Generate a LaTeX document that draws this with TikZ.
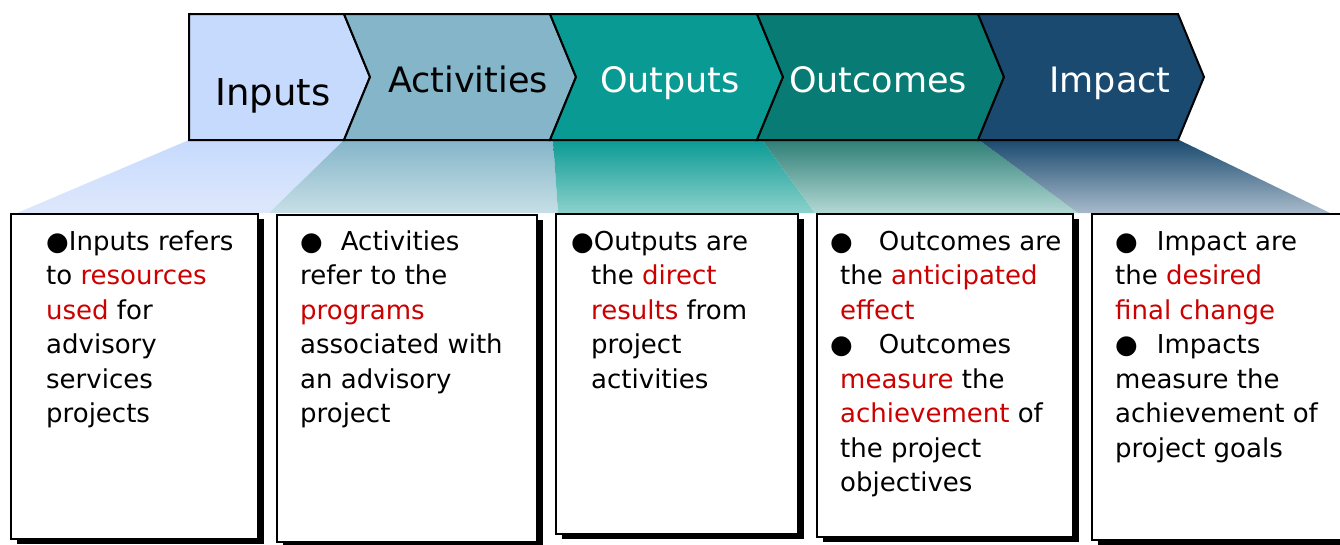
\documentclass[tikz,border=0pt]{standalone}
\usepackage{fontspec}
\setmainfont{DejaVu Sans}
\usepackage{tikz}
\usetikzlibrary{shadows}
\definecolor{inputsblue}{HTML}{C6DAFD}
\definecolor{activitiesblue}{HTML}{84B5C9}
\definecolor{outputsteal}{HTML}{0A9A94}
\definecolor{outcomesteal}{HTML}{077B74}
\definecolor{impactnavy}{HTML}{1A4A6F}
\definecolor{outcomestop}{HTML}{2E7F76}
\definecolor{inputsfade}{HTML}{DEE8FC}
\definecolor{activitiesfade}{HTML}{C7DFE5}
\definecolor{outputsfade}{HTML}{8DD1CC}
\definecolor{outcomesfade}{HTML}{B3D8D4}
\definecolor{impactfade}{HTML}{A8BACA}
\definecolor{keyred}{HTML}{CC0000}
\tikzstyle{chevron}=[draw=black, line width=2pt, line join=miter]
\tikzstyle{infobox}=[draw=black, line width=2pt, fill=white, inner sep=0pt, outer sep=0pt, anchor=north west, drop shadow={shadow xshift=6pt, shadow yshift=-5pt, fill=black, opacity=1}]
\tikzstyle{infotext}=[anchor=north west, inner sep=0pt, align=left, font=\fontsize{26}{34.5}\selectfont]
\tikzstyle{steplabel}=[anchor=base, inner sep=0pt]
\newcommand{\keyword}[1]{\textcolor{keyred}{#1}}

\begin{document}
\begin{tikzpicture}[x=1pt, y=-1pt]
    \useasboundingbox (0,0) rectangle (1340,544);
    % fading bands under the arrow
    \foreach \ta/\tb/\ba/\bb/\ct/\cb in {189/344/17/269/inputsblue/inputsfade, 344/553/269/558/activitiesblue/activitiesfade, 553/762/558/815/outputsteal/outputsfade, 762/979/815/1078/outcomestop/outcomesfade, 979/1179/1078/1330/impactnavy/impactfade}
        \shade[top color=\ct, bottom color=\cb] (\ta,140) -- (\tb,140) -- (\bb,213) -- (\ba,213) -- cycle;
    % chevrons
    \foreach \xa/\xb/\col/\txt/\tcol/\lx/\ly/\fs [count=\i] in {189/344/inputsblue/Inputs/black/273/105/37, 344/550/activitiesblue/Activities/black/468/92/35, 550/757/outputsteal/Outputs/white/670/92/35, 757/978/outcomesteal/Outcomes/white/878/92/35, 978/1178/impactnavy/Impact/white/1110/92/35}
    {
        \pgfmathsetmacro{\nd}{\i==1 ? 0 : 26}
        \draw[chevron, fill=\col] (\xa,14) -- (\xb,14) -- (\xb+26,77) -- (\xb,140) -- (\xa,140) -- (\xa+\nd,77) -- cycle;
        \node[steplabel, text=\tcol, font=\fontsize{\fs}{40}\selectfont] (\txt) at (\lx,\ly) {\txt};
    }
    % boxes
    \node[infobox, minimum width=247pt, minimum height=325pt] (inputsBox) at (11,214) {};
    \node[infobox, minimum width=260pt, minimum height=327pt] (activitiesBox) at (277,215) {};
    \node[infobox, minimum width=242pt, minimum height=320pt] (outputsBox) at (556,214) {};
    \node[infobox, minimum width=256pt, minimum height=323pt] (outcomesBox) at (817,214) {};
    \node[infobox, minimum width=260pt, minimum height=326pt] (impactBox) at (1092,214) {};
    % texts
    \node[infotext] (inputsText) at (46,226) {\strut●Inputs refers\\to \keyword{resources}\\\keyword{used} for\\advisory\\services\\projects};
    \node[infotext] (activitiesText) at (300,226) {\strut●\hspace{18pt}Activities\\refer to the\\\keyword{programs}\\associated with\\an advisory\\project};
    \node[infotext] (outputsText) at (571,226) {\strut●Outputs are\\\hspace*{20pt}the \keyword{direct}\\\hspace*{20pt}\keyword{results} from\\\hspace*{20pt}project\\\hspace*{20pt}activities};
    \node[infotext] (outcomesText) at (840,226) {\strut\hspace*{-10pt}●\hspace{26pt}Outcomes are\\the \keyword{anticipated}\\\keyword{effect}\\\hspace*{-10pt}●\hspace{26pt}Outcomes\\\keyword{measure} the\\\keyword{achievement} of\\the project\\objectives};
    \node[infotext] (impactText) at (1115,226) {\strut●\hspace{19pt}Impact are\\the \keyword{desired}\\\keyword{final change}\\●\hspace{19pt}Impacts\\measure the\\achievement of\\project goals};
\end{tikzpicture}
\end{document}
